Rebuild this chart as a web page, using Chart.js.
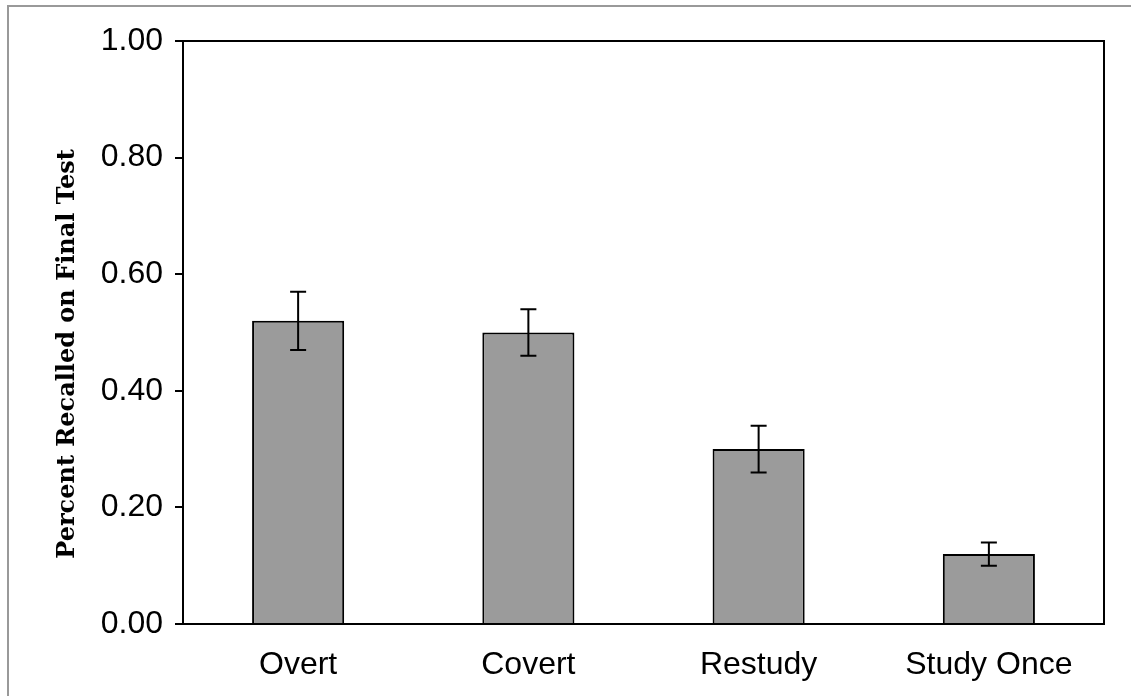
<!DOCTYPE html>
<html>
<head>
<meta charset="utf-8">
<script src="https://cdn.jsdelivr.net/npm/chart.js@4/dist/chart.umd.min.js"></script>
<style>
  html, body { margin: 0; padding: 0; background: #fff; }
  #wrap { width: 1131px; height: 696px; position: relative; }
</style>
</head>
<body>
<div id="wrap"><canvas id="recallChart" width="1131" height="696"></canvas></div>
<script>
// Final test recall by condition
const categories = ['Overt', 'Covert', 'Restudy', 'Study Once'];
const means = [0.52, 0.50, 0.30, 0.12];
const errLow = [0.47, 0.46, 0.26, 0.10];
const errHigh = [0.57, 0.54, 0.34, 0.14];
const yTicks = [0, 0.2, 0.4, 0.6, 0.8, 1.0];
const yTitle = 'Percent Recalled on Final Test';

// page frame, plot box, y title (sits a bit below the plot centre in the original)
const framePlugin = {
  id: 'frame',
  beforeDraw(chart) {
    const c = chart.ctx;
    c.save();
    c.strokeStyle = '#999';
    c.lineWidth = 2;
    c.beginPath();
    c.moveTo(8, 696);
    c.lineTo(8, 6);
    c.lineTo(1131, 6);
    c.stroke();
    c.translate(68, 354);
    c.rotate(-Math.PI / 2);
    c.fillStyle = '#000';
    c.font = 'bold 24px "DejaVu Serif"';
    c.textAlign = 'center';
    c.textBaseline = 'middle';
    c.fillText(yTitle, 0, 0);
    c.restore();
  },
  afterDatasetsDraw(chart) {
    const a = chart.chartArea, c = chart.ctx;
    c.save();
    c.strokeStyle = '#000';
    c.lineWidth = 2;
    c.strokeRect(a.left, a.top, a.right - a.left, a.bottom - a.top);
    c.restore();
  }
};

// error bars from the data arrays
const errorBarPlugin = {
  id: 'errorBars',
  afterDatasetsDraw(chart) {
    const c = chart.ctx;
    const meta = chart.getDatasetMeta(0);
    const y = chart.scales.y;
    c.save();
    c.strokeStyle = '#000';
    c.lineWidth = 2;
    meta.data.forEach((bar, i) => {
      const x = bar.x;
      const yl = y.getPixelForValue(errLow[i]);
      const yh = y.getPixelForValue(errHigh[i]);
      c.beginPath();
      c.moveTo(x, yl); c.lineTo(x, yh);
      c.moveTo(x - 8, yl); c.lineTo(x + 8, yl);
      c.moveTo(x - 8, yh); c.lineTo(x + 8, yh);
      c.stroke();
    });
    c.restore();
  }
};

new Chart(document.getElementById('recallChart'), {
  type: 'bar',
  data: {
    labels: categories,
    datasets: [{
      data: means,
      backgroundColor: '#9b9b9b',
      borderColor: '#000',
      borderWidth: 2,
      barPercentage: 0.4,
      categoryPercentage: 1.0
    }]
  },
  options: {
    responsive: false,
    animation: false,
    layout: { padding: { left: 54, top: 41, right: 27, bottom: 0 } },
    plugins: { legend: { display: false }, tooltip: { enabled: false } },
    scales: {
      x: {
        grid: { display: false, drawTicks: false },
        border: { display: true, color: '#000', width: 2 },
        ticks: { color: '#000', font: { family: 'Liberation Sans', size: 32 }, padding: 22 },
        afterFit(s) { s.height = 72; }
      },
      y: {
        min: 0,
        max: 1,
        afterBuildTicks(s) { s.ticks = yTicks.map(v => ({ value: v })); },
        grid: { drawOnChartArea: false, drawTicks: true, tickLength: 8, color: '#000', lineWidth: 2 },
        border: { display: true, color: '#000', width: 2 },
        ticks: {
          color: '#000',
          font: { family: 'Liberation Sans', size: 32 },
          padding: 12,
          callback: v => Number(v).toFixed(2)
        },
        title: { display: false },
        afterFit(s) { s.width = 129; }
      }
    }
  },
  plugins: [framePlugin, errorBarPlugin]
});
</script>
</body>
</html>
